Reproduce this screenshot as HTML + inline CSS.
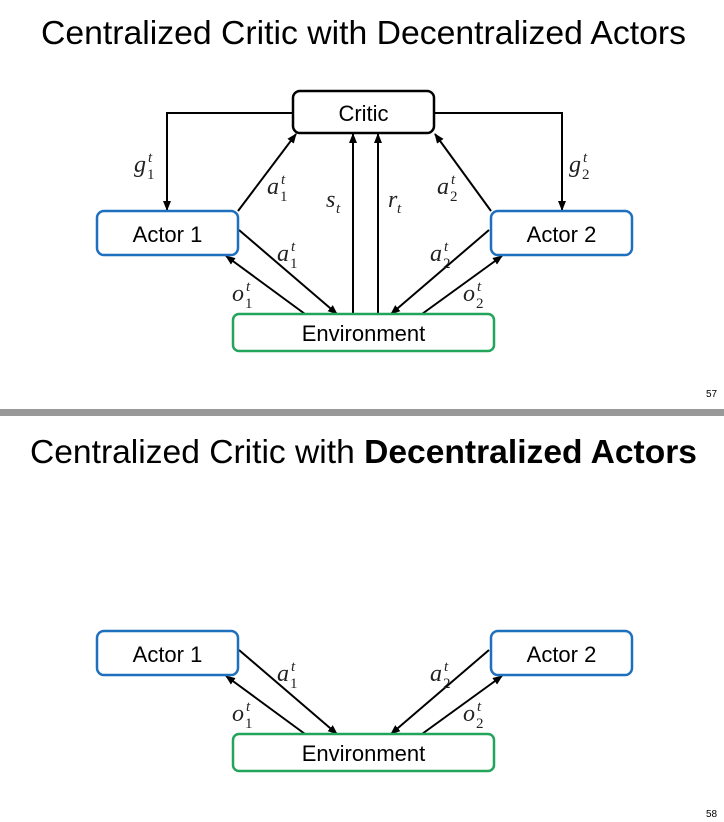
<!DOCTYPE html>
<html><head><meta charset="utf-8"><style>
html,body{margin:0;padding:0;background:#fff;}
svg{display:block;}
.t{font-family:"Liberation Sans",sans-serif;font-size:33px;fill:#000;}
.b{font-family:"Liberation Sans",sans-serif;font-size:22px;fill:#000;}
.m{font-family:"Liberation Serif",serif;font-style:italic;font-size:24px;fill:#222;}
.s{font-family:"Liberation Serif",serif;font-size:15px;fill:#222;}
.si{font-family:"Liberation Serif",serif;font-style:italic;font-size:15px;fill:#222;}
.n{font-family:"Liberation Sans",sans-serif;font-size:10px;fill:#000;}
</style></head><body>
<svg width="724" height="822" viewBox="0 0 724 822" xmlns="http://www.w3.org/2000/svg">
<defs>
<marker id="ar" markerWidth="10" markerHeight="8" refX="9" refY="4" orient="auto" markerUnits="userSpaceOnUse">
<path d="M0,0 L10,4 L0,8 z" fill="#000"/></marker>
</defs>
<rect x="0" y="0" width="724" height="822" fill="#fff"/>
<rect x="0" y="409" width="724" height="7" fill="#999"/>
<text class="t" x="41" y="44" textLength="645" lengthAdjust="spacingAndGlyphs">Centralized Critic with Decentralized Actors</text>
<text class="t" x="30" y="463" textLength="667" lengthAdjust="spacingAndGlyphs">Centralized Critic with <tspan font-weight="bold">Decentralized Actors</tspan></text>
<text class="n" x="706" y="397">57</text>
<text class="n" x="706" y="817">58</text>

<g stroke="#000" stroke-width="2" fill="none">
<polyline points="293,113 167,113 167,210" marker-end="url(#ar)"/>
<polyline points="434,113 562,113 562,210" marker-end="url(#ar)"/>
<line x1="238" y1="211" x2="296" y2="134" marker-end="url(#ar)"/>
<line x1="491" y1="211" x2="435" y2="134" marker-end="url(#ar)"/>
<line x1="353" y1="314" x2="353" y2="134" marker-end="url(#ar)"/>
<line x1="378" y1="314" x2="378" y2="134" marker-end="url(#ar)"/>
<line x1="239" y1="230" x2="337" y2="314" marker-end="url(#ar)"/>
<line x1="305" y1="314" x2="226" y2="256" marker-end="url(#ar)"/>
<line x1="489" y1="230" x2="391" y2="314" marker-end="url(#ar)"/>
<line x1="422" y1="314" x2="502" y2="256" marker-end="url(#ar)"/>
<line x1="239" y1="650" x2="337" y2="734" marker-end="url(#ar)"/>
<line x1="305" y1="734" x2="226" y2="676" marker-end="url(#ar)"/>
<line x1="489" y1="650" x2="391" y2="734" marker-end="url(#ar)"/>
<line x1="422" y1="734" x2="502" y2="676" marker-end="url(#ar)"/>
</g>

<rect x="293" y="91" width="141" height="42" rx="7" fill="#fff" stroke="#000" stroke-width="2.5"/>
<text class="b" x="363.5" y="121" text-anchor="middle">Critic</text>
<rect x="97" y="211" width="141" height="44" rx="7" fill="#fff" stroke="#1f6fbf" stroke-width="2.5"/>
<text class="b" x="167.5" y="242" text-anchor="middle">Actor 1</text>
<rect x="491" y="211" width="141" height="44" rx="7" fill="#fff" stroke="#1f6fbf" stroke-width="2.5"/>
<text class="b" x="561.5" y="242" text-anchor="middle">Actor 2</text>
<rect x="233" y="314" width="261" height="37" rx="6" fill="#fff" stroke="#22a45a" stroke-width="2.5"/>
<text class="b" x="363.5" y="341" text-anchor="middle">Environment</text>

<rect x="97" y="631" width="141" height="44" rx="7" fill="#fff" stroke="#1f6fbf" stroke-width="2.5"/>
<text class="b" x="167.5" y="662" text-anchor="middle">Actor 1</text>
<rect x="491" y="631" width="141" height="44" rx="7" fill="#fff" stroke="#1f6fbf" stroke-width="2.5"/>
<text class="b" x="561.5" y="662" text-anchor="middle">Actor 2</text>
<rect x="233" y="734" width="261" height="37" rx="6" fill="#fff" stroke="#22a45a" stroke-width="2.5"/>
<text class="b" x="363.5" y="761" text-anchor="middle">Environment</text>

<g>
<text class="m" x="134" y="172">g</text><text class="si" x="148" y="162">t</text><text class="s" x="147" y="179">1</text>
<text class="m" x="267" y="194">a</text><text class="si" x="281" y="184">t</text><text class="s" x="280" y="201">1</text>
<text class="m" x="326" y="207">s</text><text class="si" x="336" y="213">t</text>
<text class="m" x="388" y="207">r</text><text class="si" x="397" y="213">t</text>
<text class="m" x="437" y="194">a</text><text class="si" x="451" y="184">t</text><text class="s" x="450" y="201">2</text>
<text class="m" x="569" y="172">g</text><text class="si" x="583" y="162">t</text><text class="s" x="582" y="179">2</text>
<text class="m" x="277" y="261">a</text><text class="si" x="291" y="251">t</text><text class="s" x="290" y="268">1</text>
<text class="m" x="232" y="301">o</text><text class="si" x="246" y="291">t</text><text class="s" x="245" y="308">1</text>
<text class="m" x="430" y="261">a</text><text class="si" x="444" y="251">t</text><text class="s" x="443" y="268">2</text>
<text class="m" x="463" y="301">o</text><text class="si" x="477" y="291">t</text><text class="s" x="476" y="308">2</text>
</g>
<g>
<text class="m" x="277" y="681">a</text><text class="si" x="291" y="671">t</text><text class="s" x="290" y="688">1</text>
<text class="m" x="232" y="721">o</text><text class="si" x="246" y="711">t</text><text class="s" x="245" y="728">1</text>
<text class="m" x="430" y="681">a</text><text class="si" x="444" y="671">t</text><text class="s" x="443" y="688">2</text>
<text class="m" x="463" y="721">o</text><text class="si" x="477" y="711">t</text><text class="s" x="476" y="728">2</text>
</g>
</svg>
</body></html>
